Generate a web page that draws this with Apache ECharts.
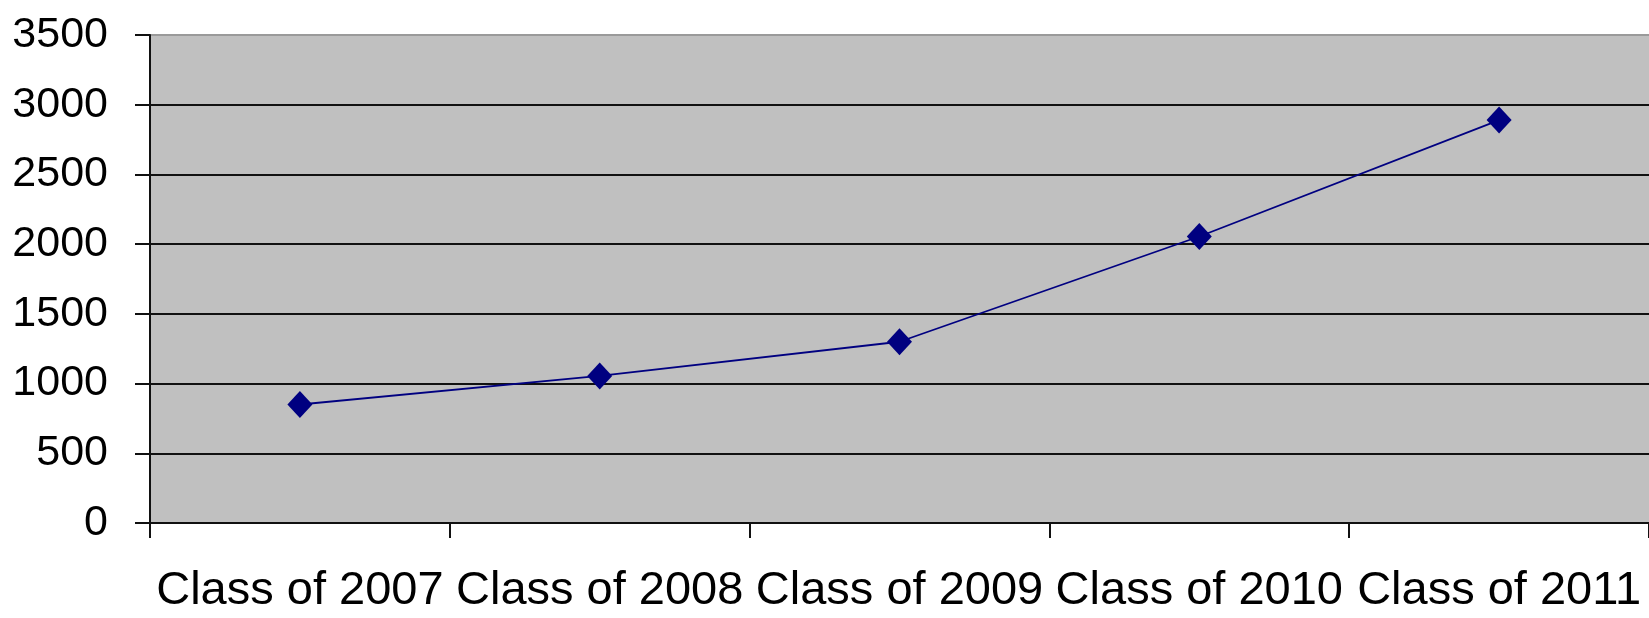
<!DOCTYPE html>
<html>
<head>
<meta charset="utf-8">
<title>Class sizes</title>
<script src="https://cdn.jsdelivr.net/npm/echarts@6/dist/echarts.min.js"></script>
<style>
  html, body { margin: 0; padding: 0; background: #ffffff; }
  #chart { width: 1649px; height: 618px; }
</style>
</head>
<body>
<div id="chart"></div>
<script>
// Graduating classes and their counts
const categories = ['Class of 2007', 'Class of 2008', 'Class of 2009', 'Class of 2010', 'Class of 2011'];
const counts = [850, 1055, 1300, 2055, 2890];

// Value axis range
const yMin = 0;
const yMax = 3500;
const yStep = 500;

const chart = echarts.init(document.getElementById('chart'), null, { renderer: 'canvas' });

// one colour per split line, bottom to top; the top edge is a lighter border
const splitColors = [];
for (let v = yMin; v <= yMax; v += yStep) splitColors.push(v === yMax ? '#9a9a9a' : '#111111');

chart.setOption({
  animation: false,
  backgroundColor: '#ffffff',
  grid: {
    left: 150,
    top: 35,
    width: 1506,
    height: 488,
    show: true,
    backgroundColor: '#c0c0c0',
    borderWidth: 0
  },
  xAxis: {
    type: 'category',
    data: categories,
    boundaryGap: true,
    axisLine: { show: true, onZero: false, lineStyle: { color: '#111111', width: 2 } },
    axisTick: { show: true, length: 15, inside: false, alignWithLabel: false, lineStyle: { color: '#111111', width: 2 } },
    axisLabel: {
      margin: 45,
      color: '#000000',
      fontFamily: 'Liberation Sans, Arial, sans-serif',
      fontSize: 47,
      interval: 0
    },
    splitLine: { show: false }
  },
  yAxis: {
    type: 'value',
    min: yMin,
    max: yMax,
    interval: yStep,
    axisLine: { show: true, lineStyle: { color: '#111111', width: 2 } },
    axisTick: { show: true, length: 15, inside: false, lineStyle: { color: '#111111', width: 2 } },
    axisLabel: {
      margin: 42,
      color: '#000000',
      fontFamily: 'Liberation Sans, Arial, sans-serif',
      fontSize: 43,
      formatter: (v) => String(v)
    },
    splitLine: { show: true, lineStyle: { color: splitColors, width: 2 } }
  },
  series: [{
    type: 'line',
    data: counts,
    symbol: 'diamond',
    symbolSize: [25, 27],
    showAllSymbol: true,
    lineStyle: { color: '#000080', width: 1.8 },
    itemStyle: { color: '#000080' },
    z: 3
  }]
});
</script>
</body>
</html>
